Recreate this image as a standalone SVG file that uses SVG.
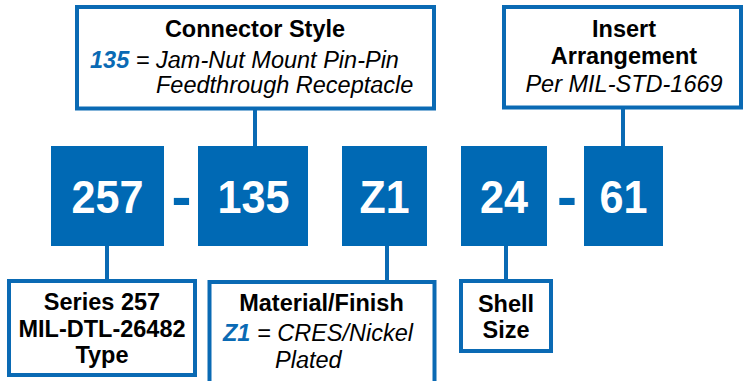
<svg xmlns="http://www.w3.org/2000/svg" width="743" height="381" viewBox="0 0 743 381">
<style>
.box{fill:#fff;stroke:#0A6AB4;stroke-width:4}
.blk{fill:#0069B4}
.num{font-family:"Liberation Sans",Arial,sans-serif;font-weight:bold;font-size:46px;fill:#fff;text-anchor:middle}
.dash{font-family:"Liberation Sans",Arial,sans-serif;font-weight:bold;font-size:60px;fill:#0069B4;text-anchor:middle}
.t{font-family:"Liberation Sans",Arial,sans-serif;font-size:23.5px;fill:#000}
.b{font-weight:bold}
.i{font-style:italic}
.c{text-anchor:middle}
.hl{fill:#0A6AB4;font-weight:bold;font-style:italic}
.ln{stroke:#0A6AB4;stroke-width:4;fill:none}
</style>
<g id="connectors">
<line class="ln" x1="255" y1="109" x2="255" y2="147"/>
<line class="ln" x1="623" y1="108" x2="623" y2="147"/>
<line class="ln" x1="107" y1="245" x2="107" y2="280"/>
<line class="ln" x1="387" y1="245" x2="387" y2="281"/>
<line class="ln" x1="506" y1="245" x2="506" y2="280"/>
</g>
<g id="connector-style">
<rect class="box" x="77" y="7" width="357" height="101.5"/>
<text class="t b c" x="255" y="37">Connector Style</text>
<text class="t i" x="90" y="68"><tspan class="hl">135</tspan> = Jam-Nut Mount Pin-Pin</text>
<text class="t i" x="156" y="93">Feedthrough Receptacle</text>
</g>
<g id="insert-arrangement">
<rect class="box" x="504" y="7" width="237" height="100.5"/>
<text class="t b c" x="624" y="37">Insert</text>
<text class="t b c" x="624" y="64">Arrangement</text>
<text class="t i c" x="624" y="92">Per MIL-STD-1669</text>
</g>
<g id="code-257">
<rect class="blk" x="51" y="146" width="113" height="100"/>
<text class="num" x="107.5" y="213" textLength="72" lengthAdjust="spacingAndGlyphs">257</text>
</g>
<text id="dash-1" class="dash" x="181.5" y="217">-</text>
<g id="code-135">
<rect class="blk" x="198" y="146" width="110" height="100"/>
<text class="num" x="253.5" y="213" textLength="72" lengthAdjust="spacingAndGlyphs">135</text>
</g>
<g id="code-z1">
<rect class="blk" x="342" y="146" width="85" height="100"/>
<text class="num" x="384.5" y="213" textLength="50" lengthAdjust="spacingAndGlyphs">Z1</text>
</g>
<g id="code-24">
<rect class="blk" x="461" y="146" width="86" height="100"/>
<text class="num" x="504" y="213" textLength="48" lengthAdjust="spacingAndGlyphs">24</text>
</g>
<text id="dash-2" class="dash" x="567" y="217">-</text>
<g id="code-61">
<rect class="blk" x="584" y="146" width="79" height="100"/>
<text class="num" x="623.5" y="213" textLength="48" lengthAdjust="spacingAndGlyphs">61</text>
</g>
<g id="series">
<rect class="box" x="9" y="281" width="186" height="94"/>
<text class="t b c" x="102" y="310">Series 257</text>
<text class="t b c" x="102" y="337">MIL-DTL-26482</text>
<text class="t b c" x="102" y="363">Type</text>
</g>
<g id="material-finish">
<rect class="box" x="209.5" y="282" width="225" height="130"/>
<text class="t b c" x="321.5" y="311">Material/Finish</text>
<text class="t i" x="223" y="341"><tspan class="hl">Z1</tspan> = CRES/Nickel</text>
<text class="t i" x="275" y="368">Plated</text>
</g>
<g id="shell-size">
<rect class="box" x="461" y="281" width="90" height="70"/>
<text class="t b c" x="506" y="312">Shell</text>
<text class="t b c" x="506" y="338">Size</text>
</g>
</svg>
